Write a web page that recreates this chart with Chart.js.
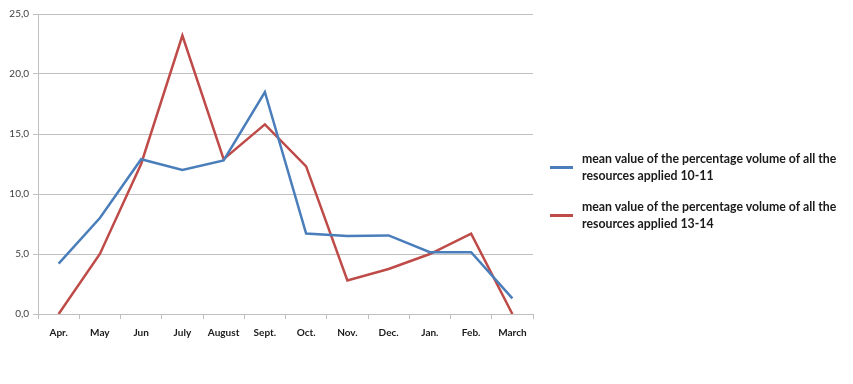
<!DOCTYPE html>
<html>
<head>
<meta charset="utf-8">
<script src="https://cdn.jsdelivr.net/npm/chart.js@4/dist/chart.umd.min.js"></script>
<style>
    html, body { margin: 0; padding: 0; background: #fff; }
    #wrap { position: relative; width: 853px; height: 384px; }
    #legend {
        position: absolute; left: 550px; top: 150px; width: 300px;
        font-family: Lato, "Open Sans", sans-serif; font-weight: bold;
        font-size: 12.3px; line-height: 17px; color: #1a1a1a;
    }
    .item { display: flex; align-items: center; margin-bottom: 14px; }
    .swatch { width: 23px; height: 3px; margin-right: 9px; flex: none; }
</style>
</head>
<body>
<div id="wrap">
    <canvas id="chart" width="853" height="384"></canvas>
    <div id="legend"></div>
</div>
<script>
const months = ['Apr.', 'May', 'Jun', 'July', 'August', 'Sept.', 'Oct.', 'Nov.', 'Dec.', 'Jan.', 'Feb.', 'March'];
const series1011 = [4.2, 8.0, 12.9, 12.0, 12.8, 18.5, 6.7, 6.5, 6.55, 5.15, 5.15, 1.3];
const series1314 = [0.0, 5.0, 12.5, 23.2, 12.9, 15.8, 12.3, 2.8, 3.75, 5.0, 6.7, 0.0];
const seriesNames = [
    'mean value of the percentage volume of all the resources applied 10-11',
    'mean value of the percentage volume of all the resources applied 13-14'
];
const colors = ['#4a7ebb', '#be4b48'];

const ctx = document.getElementById('chart').getContext('2d');

// legend built as html so the labels can wrap like the original
const legendBox = document.getElementById('legend');
seriesNames.forEach((name, i) => {
    const item = document.createElement('div');
    item.className = 'item';
    const sw = document.createElement('span');
    sw.className = 'swatch';
    sw.style.background = colors[i];
    const txt = document.createElement('span');
    txt.textContent = name;
    item.appendChild(sw);
    item.appendChild(txt);
    legendBox.appendChild(item);
});

new Chart(ctx, {
    type: 'line',
    data: {
        labels: months,
        datasets: [
            {
                label: seriesNames[0],
                data: series1011,
                borderColor: colors[0],
                borderWidth: 2.5,
                pointRadius: 0,
                tension: 0,
                fill: false,
            },
            {
                label: seriesNames[1],
                data: series1314,
                borderColor: colors[1],
                borderWidth: 2.5,
                pointRadius: 0,
                tension: 0,
                fill: false,
            }
        ]
    },
    options: {
        responsive: false,
        animation: false,
        layout: {
            padding: { left: 0, top: 14, right: 320, bottom: 0 }
        },
        plugins: {
            legend: { display: false },
            tooltip: { enabled: false },
        },
        scales: {
            x: {
                offset: true,
                afterFit: scale => { scale.height = 70; },
                grid: {
                    offset: true,
                    drawOnChartArea: false,
                    drawTicks: true,
                    tickLength: 5,
                    color: '#bfbfbf',
                },
                border: { color: '#bfbfbf', width: 1 },
                ticks: {
                    padding: 8,
                    maxRotation: 0,
                    autoSkip: false,
                    color: '#1a1a1a',
                    font: { family: 'Lato, "Open Sans", sans-serif', size: 10, weight: 'bold' },
                },
            },
            y: {
                min: 0,
                max: 25,
                afterFit: scale => { scale.width = 38; },
                grid: {
                    color: '#c0c0c0',
                    lineWidth: 1,
                    tickLength: 5,
                    drawTicks: true,
                },
                border: { color: '#bfbfbf', width: 1 },
                ticks: {
                    stepSize: 5,
                    padding: 4,
                    color: '#404040',
                    font: { family: 'Lato, "Open Sans", sans-serif', size: 10 },
                    callback: v => v.toFixed(1).replace('.', ','),
                },
            },
        },
    },
});
</script>
</body>
</html>
